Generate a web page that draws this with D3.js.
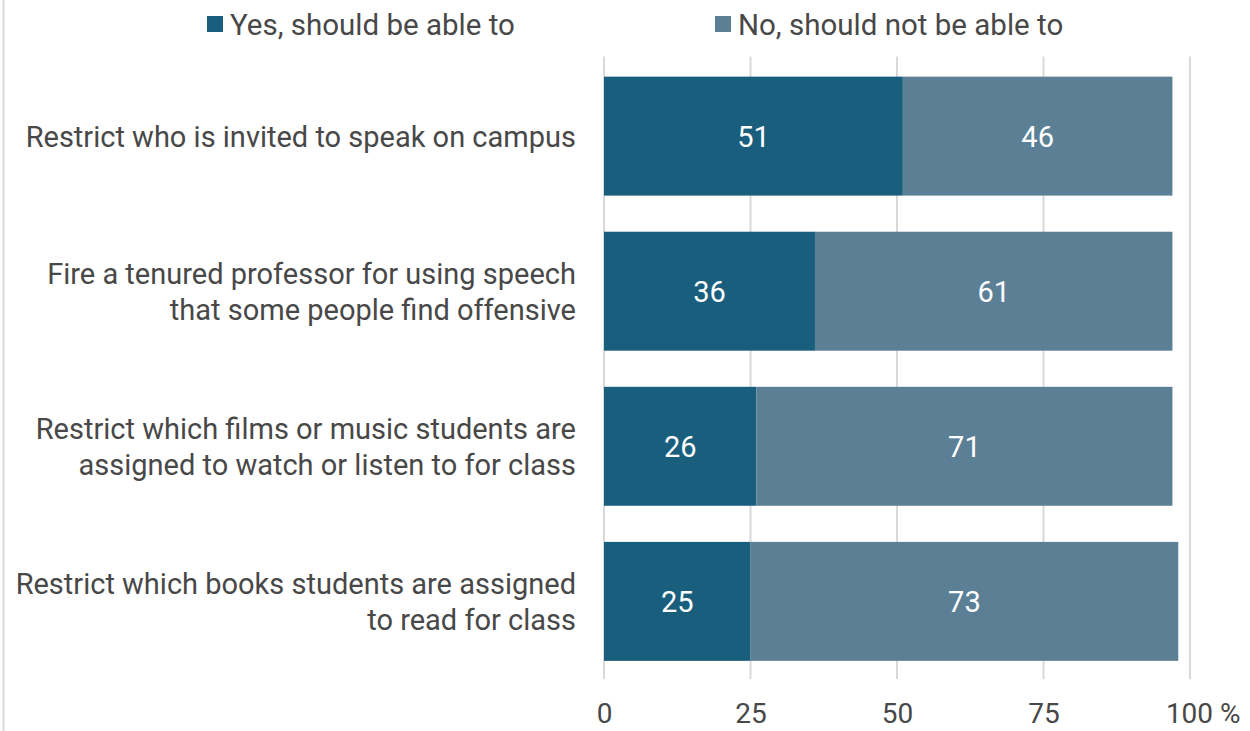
<!DOCTYPE html>
<html>
<head>
<meta charset="utf-8">
<script src="https://cdn.jsdelivr.net/npm/d3@7"></script>
<style>
  body { margin: 0; background: #fff; }
  svg { font-family: Roboto, sans-serif; }
</style>
</head>
<body>
<div id="chart"></div>
<script>
var categories = [
  ["Restrict who is invited to speak on campus"],
  ["Fire a tenured professor for using speech", "that some people find offensive"],
  ["Restrict which films or music students are", "assigned to watch or listen to for class"],
  ["Restrict which books students are assigned", "to read for class"]
];
var seriesNames = ["Yes, should be able to", "No, should not be able to"];
var yesValues = [51, 36, 26, 25];
var noValues = [46, 61, 71, 73];
var tickValues = [0, 25, 50, 75, 100];
var colors = ["#195e7d", "#5b7f95"];

var svgWidth = 1250;
var svgHeight = 731;
var margin = { top: 58.5, right: 60, bottom: 52, left: 604 };
var width = svgWidth - margin.left - margin.right;
var height = svgHeight - margin.top - margin.bottom;

var svg = d3.select("#chart")
  .append("svg")
  .attr("width", svgWidth)
  .attr("height", svgHeight);

// left border line
svg.append("line")
  .attr("x1", 3.5).attr("x2", 3.5)
  .attr("y1", 0).attr("y2", svgHeight)
  .attr("stroke", "#d9d9d9").attr("stroke-width", 2);

var chartGroup = svg.append("g")
  .attr("transform", `translate(${margin.left}, ${margin.top})`);

var xScale = d3.scaleLinear().domain([0, 100]).range([0, 586]);
var yScale = d3.scaleBand()
  .domain(d3.range(categories.length))
  .range([0, height])
  .paddingInner(0.233)
  .paddingOuter(0.117);

// gridlines
chartGroup.append("g")
  .selectAll("line")
  .data(tickValues)
  .enter()
  .append("line")
  .attr("x1", d => xScale(d)).attr("x2", d => xScale(d))
  .attr("y1", -2).attr("y2", height)
  .attr("stroke", "#d9d9d9").attr("stroke-width", 2);

// bars
var rows = categories.map((c, i) => ({ i: i, yes: yesValues[i], no: noValues[i] }));

var barGroups = chartGroup.selectAll(".bar")
  .data(rows)
  .enter()
  .append("g")
  .attr("class", "bar");

barGroups.append("rect")
  .attr("x", xScale(0))
  .attr("y", d => yScale(d.i))
  .attr("width", d => xScale(d.yes) - xScale(0))
  .attr("height", yScale.bandwidth())
  .attr("fill", colors[0]);

barGroups.append("rect")
  .attr("x", d => xScale(d.yes))
  .attr("y", d => yScale(d.i))
  .attr("width", d => xScale(d.yes + d.no) - xScale(d.yes))
  .attr("height", yScale.bandwidth())
  .attr("fill", colors[1]);

barGroups.append("text")
  .attr("x", d => xScale(d.yes / 2))
  .attr("y", d => yScale(d.i) + yScale.bandwidth() / 2)
  .attr("dy", "0.36em")
  .attr("text-anchor", "middle")
  .attr("fill", "#fff")
  .attr("font-size", 29)
  .text(d => d.yes);

barGroups.append("text")
  .attr("x", d => xScale(d.yes + d.no / 2))
  .attr("y", d => yScale(d.i) + yScale.bandwidth() / 2)
  .attr("dy", "0.36em")
  .attr("text-anchor", "middle")
  .attr("fill", "#fff")
  .attr("font-size", 29)
  .text(d => d.no);

// category labels
var labels = chartGroup.append("g")
  .selectAll("text")
  .data(categories)
  .enter()
  .append("text")
  .attr("text-anchor", "end")
  .attr("fill", "#484848")
  .attr("font-size", 29)
  .attr("transform", (d, i) => `translate(-28, ${yScale(i) + yScale.bandwidth() / 2})`);

labels.selectAll("tspan")
  .data(d => d.map((line, j) => ({ line: line, j: j, n: d.length })))
  .enter()
  .append("tspan")
  .attr("x", 0)
  .attr("y", d => (d.j - (d.n - 1) / 2) * 36)
  .attr("dy", "0.36em")
  .text(d => d.line);

// x axis
var bottomAxis = d3.axisBottom(xScale)
  .tickValues(tickValues)
  .tickSize(0)
  .tickPadding(24)
  .tickFormat(d => d === 100 ? "100 %" : d);

var xAxis = chartGroup.append("g")
  .attr("transform", `translate(0, ${height})`)
  .call(bottomAxis);
xAxis.select(".domain").remove();
xAxis.selectAll("text")
  .attr("font-size", 28)
  .attr("font-family", "Roboto, sans-serif")
  .attr("fill", "#484848");
xAxis.selectAll(".tick").filter(d => d === 100).select("text")
  .attr("text-anchor", "start")
  .attr("dx", "-0.88em");

// legend
var legendX = [207, 715];
var legend = svg.append("g")
  .selectAll("g")
  .data(seriesNames)
  .enter()
  .append("g")
  .attr("transform", (d, i) => `translate(${legendX[i]}, 16)`);

legend.append("rect")
  .attr("width", 16).attr("height", 16)
  .attr("fill", (d, i) => colors[i]);

legend.append("text")
  .attr("x", 23)
  .attr("y", 8)
  .attr("dy", "0.36em")
  .attr("fill", "#484848")
  .attr("font-size", 29.5)
  .text(d => d);
</script>
</body>
</html>
